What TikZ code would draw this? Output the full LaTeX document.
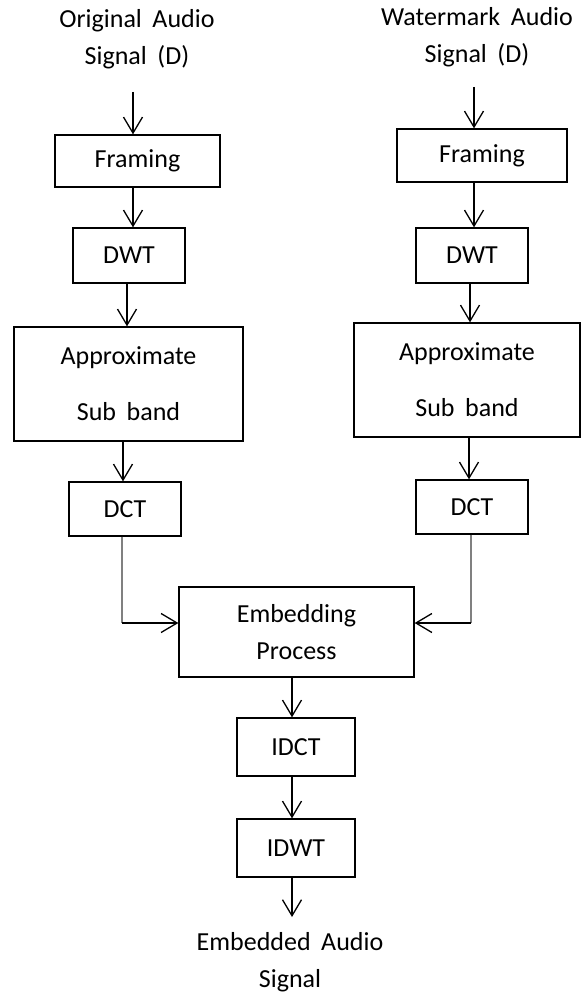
\documentclass[tikz,border=0pt]{standalone}
\usepackage{fontspec}
\setmainfont{Carlito}[WordSpace=1.8]
\usetikzlibrary{arrows.meta}
\tikzset{
  boxnode/.style={draw=black, line width=1.3pt, inner sep=0pt, align=center,
    font=\fontsize{26}{37}\selectfont},
  lbl/.style={inner sep=0pt, align=center, font=\fontsize{26}{37}\selectfont},
  arr/.style={line width=1.3pt, -{Straight Barb[length=16pt,width=19pt,line width=1.3pt]}},
  grayline/.style={line width=1.8pt, draw=black!50},
}
\begin{document}
\begin{tikzpicture}[x=1pt,y=-1pt]
\useasboundingbox (0,0) rectangle (581,992);
% titles
\node[lbl, anchor=base] (t1) at (137,65) {Original Audio\\Signal (D)};
\node[lbl, anchor=base] (t2) at (477,63) {Watermark Audio\\Signal (D)};
% left column
\node[boxnode, minimum width=165pt, minimum height=52pt] (fr1) at (137.5,161) {Framing};
\node[boxnode, minimum width=112pt, minimum height=55pt] (dwt1) at (129,255.5) {DWT};
\node[boxnode, minimum width=229pt, minimum height=114pt, font=\fontsize{26}{56}\selectfont] (ap1) at (128.5,384) {Approximate\\Sub band};
\node[boxnode, minimum width=112pt, minimum height=54pt] (dct1) at (125,509) {DCT};
% right column
\node[boxnode, minimum width=170pt, minimum height=53pt] (fr2) at (482,155.5) {Framing};
\node[boxnode, minimum width=112pt, minimum height=55pt] (dwt2) at (472,255.5) {DWT};
\node[boxnode, minimum width=226pt, minimum height=114pt, font=\fontsize{26}{56}\selectfont] (ap2) at (467,380) {Approximate\\Sub band};
\node[boxnode, minimum width=112pt, minimum height=54pt] (dct2) at (472,507) {DCT};
% centre
\node[boxnode, minimum width=235pt, minimum height=90pt] (emb) at (296.5,632) {Embedding\\Process};
\node[boxnode, minimum width=118pt, minimum height=58pt] (idct) at (296,747) {IDCT};
\node[boxnode, minimum width=118pt, minimum height=58pt] (idwt) at (296,848) {IDWT};
\node[lbl, anchor=base] (out) at (290,987) {Embedded Audio\\Signal};
% arrow columns
\coordinate (s1) at (133,92);
\coordinate (s2) at (474,87);
\coordinate (a1) at (133,0);
\coordinate (a2) at (127,0);
\coordinate (a3) at (123,0);
\coordinate (a4) at (122,623);
\coordinate (b1) at (474,0);
\coordinate (b2) at (470,0);
\coordinate (b3) at (469,0);
\coordinate (b4) at (471,623);
\coordinate (c1) at (292,0);
\coordinate (e1) at (292,917);
% left arrows
\draw[arr] (s1) -- (fr1.north -| s1);
\draw[arr] (fr1.south -| a1) -- (dwt1.north -| a1);
\draw[arr] (dwt1.south -| a2) -- (ap1.north -| a2);
\draw[arr] (ap1.south -| a3) -- (dct1.north -| a3);
\draw[grayline] (dct1.south -| a4) -- (a4);
\draw[arr] (a4) -- (emb.west |- a4);
% right arrows
\draw[arr] (s2) -- (fr2.north -| s2);
\draw[arr] (fr2.south -| b1) -- (dwt2.north -| b1);
\draw[arr] (dwt2.south -| b2) -- (ap2.north -| b2);
\draw[arr] (ap2.south -| b3) -- (dct2.north -| b3);
\draw[grayline] (dct2.south -| b4) -- (b4);
\draw[arr] (b4) -- (emb.east |- b4);
% centre arrows
\draw[arr] (emb.south -| c1) -- (idct.north -| c1);
\draw[arr] (idct.south -| c1) -- (idwt.north -| c1);
\draw[arr] (idwt.south -| c1) -- (e1);
\end{tikzpicture}
\end{document}
